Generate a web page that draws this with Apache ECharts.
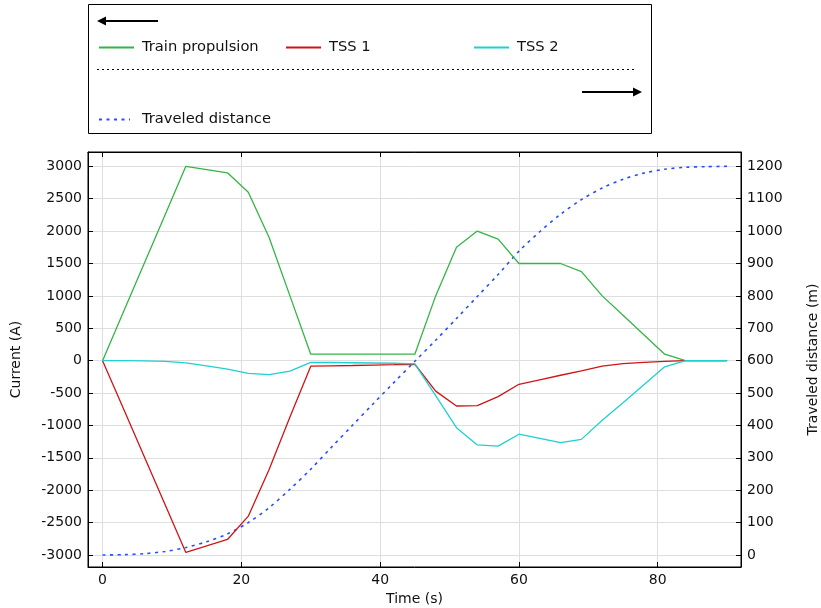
<!DOCTYPE html>
<html>
<head>
<meta charset="utf-8">
<script src="https://cdn.jsdelivr.net/npm/echarts@6/dist/echarts.min.js"></script>
<style>
html,body{margin:0;padding:0;background:#fff;}
#chart{width:821px;height:608px;}
</style>
</head>
<body>
<div id="chart"></div>
<script>
// ---- data ----
const time = [0,3,6,9,12,15,18,21,24,27,30,33,36,39,42,45,48,51,54,57,60,63,66,69,72,75,78,81,84,87,90];
const trainPropulsion = [0,750,1500,2250,3000,2950,2900,2600,1900,1000,100,100,100,100,100,100,1000,1750,2000,1875,1500,1500,1500,1375,1000,700,400,100,0,0,0];
const tss1 = [0,-740,-1480,-2220,-2960,-2860,-2760,-2400,-1680,-870,-85,-80,-75,-68,-62,-55,-470,-700,-695,-555,-365,-295,-225,-157,-85,-45,-25,-10,0,0,0];
const tss2 = [0,0,-3,-10,-33,-80,-130,-195,-215,-160,-25,-28,-32,-36,-40,-50,-540,-1035,-1300,-1320,-1135,-1200,-1265,-1215,-920,-650,-370,-95,0,0,0];
const distance = [0,1,4,11,23,41,65,100,146,203,265,333,400,467,533,598,663,730,798,866,938,998,1052,1097,1133,1160,1179,1191,1197,1199,1200];
const seriesNames = ['Train propulsion','TSS 1','TSS 2','Traveled distance'];
const xTicks = [0,20,40,60,80];
const yLeftTicks = [-3000,-2500,-2000,-1500,-1000,-500,0,500,1000,1500,2000,2500,3000];
const yRightTicks = [0,100,200,300,400,500,600,700,800,900,1000,1100,1200];
const xTitle = 'Time (s)';
const yLeftTitle = 'Current (A)';
const yRightTitle = 'Traveled distance (m)';

const pairs = (ys) => time.map((t, i) => [t, ys[i]]);
const FONT = 'DejaVu Sans';
const FS = 14;
const LFS = 14.7;
const chart = echarts.init(document.getElementById('chart'), null, {renderer: 'canvas'});

const tickStyle = (vals) => ({show: true, inside: true, length: 5, customValues: vals, lineStyle: {color: '#000', width: 1}});
const gridLine = {show: true, lineStyle: {color: '#dedede', width: 1}};
const labelStyle = (vals, margin) => ({fontFamily: FONT, fontSize: FS, color: '#111', margin: margin, customValues: vals,
  formatter: (v) => String(v)});
const legendAt = (name, left, top, w) => ({
  data: [name], left: left, top: top, padding: 0, itemWidth: w, itemHeight: 14, selectedMode: false,
  itemStyle: {opacity: 0},
  textStyle: {fontFamily: FONT, fontSize: LFS, color: '#111', padding: [0, 0, 0, 38 - w], lineHeight: 15}
});

chart.setOption({
  animation: false,
  backgroundColor: '#fff',
  textStyle: {fontFamily: FONT},
  grid: {left: 88, right: 80, top: 152, bottom: 41, show: true, borderColor: '#000', borderWidth: 1,
    containLabel: false, outerBoundsMode: 'none'},
  legend: [
    legendAt(seriesNames[0], 98, 40, 35),
    legendAt(seriesNames[1], 285, 40, 35),
    legendAt(seriesNames[2], 473, 40, 35),
    legendAt(seriesNames[3], 98, 112, 31)
  ],
  graphic: [
    {type: 'rect', shape: {x: 88.5, y: 4.5, width: 563, height: 129}, style: {fill: 'none', stroke: '#000', lineWidth: 1}, silent: true},
    {type: 'line', shape: {x1: 104, y1: 21, x2: 158, y2: 21}, style: {stroke: '#000', lineWidth: 2}, silent: true},
    {type: 'polygon', shape: {points: [[97, 21], [106, 16.5], [106, 25.5]]}, style: {fill: '#000'}, silent: true},
    {type: 'line', shape: {x1: 97, y1: 69.5, x2: 637, y2: 69.5}, style: {stroke: '#000', lineWidth: 1.2, lineDash: [2, 3]}, silent: true},
    {type: 'line', shape: {x1: 582, y1: 92, x2: 634, y2: 92}, style: {stroke: '#000', lineWidth: 2}, silent: true},
    {type: 'polygon', shape: {points: [[642, 92], [633, 87.5], [633, 96.5]]}, style: {fill: '#000'}, silent: true}
  ],
  xAxis: [
    {
      type: 'value', min: -2.1, max: 92, position: 'bottom',
      name: xTitle, nameLocation: 'middle', nameGap: 23,
      nameTextStyle: {fontFamily: FONT, fontSize: FS, color: '#111'},
      axisLine: {show: true, onZero: false, lineStyle: {color: '#000', width: 1}},
      axisTick: tickStyle(xTicks),
      axisLabel: labelStyle(xTicks, 6),
      splitLine: gridLine
    },
    {
      type: 'value', min: -2.1, max: 92, position: 'top',
      axisLine: {show: true, onZero: false, lineStyle: {color: '#000', width: 1}},
      axisTick: tickStyle(xTicks), axisLabel: {show: false}, splitLine: {show: false}
    }
  ],
  yAxis: [
    {
      type: 'value', min: -3185, max: 3221, position: 'left',
      name: yLeftTitle, nameLocation: 'middle', nameGap: 65, nameRotate: 90,
      nameTextStyle: {fontFamily: FONT, fontSize: FS, color: '#111'},
      axisLine: {show: true, onZero: false, lineStyle: {color: '#000', width: 1}},
      axisTick: tickStyle(yLeftTicks),
      axisLabel: labelStyle(yLeftTicks, 6),
      splitLine: gridLine
    },
    {
      type: 'value', min: -37.1, max: 1244.2, position: 'right',
      name: yRightTitle, nameLocation: 'middle', nameGap: 65, nameRotate: 90,
      nameTextStyle: {fontFamily: FONT, fontSize: FS, color: '#111'},
      axisLine: {show: true, onZero: false, lineStyle: {color: '#000', width: 1}},
      axisTick: tickStyle(yRightTicks),
      axisLabel: labelStyle(yRightTicks, 6),
      splitLine: {show: false}
    }
  ],
  series: [
    {name: seriesNames[0], type: 'line', data: pairs(trainPropulsion), symbol: 'none', lineStyle: {color: '#33b545', width: 1.3}, itemStyle: {color: '#33b545'}, z: 3},
    {name: seriesNames[1], type: 'line', data: pairs(tss1), symbol: 'none', lineStyle: {color: '#d01414', width: 1.3}, itemStyle: {color: '#d01414'}, z: 4},
    {name: seriesNames[2], type: 'line', data: pairs(tss2), symbol: 'none', lineStyle: {color: '#1ed0d0', width: 1.3}, itemStyle: {color: '#1ed0d0'}, z: 5},
    {name: seriesNames[3], type: 'line', yAxisIndex: 1, data: pairs(distance), symbol: 'none', smooth: 0.3,
      lineStyle: {color: '#2a4cff', width: 1.6, type: [3, 4.5]}, itemStyle: {color: '#2a4cff'}, z: 2}
  ]
});
</script>
</body>
</html>
